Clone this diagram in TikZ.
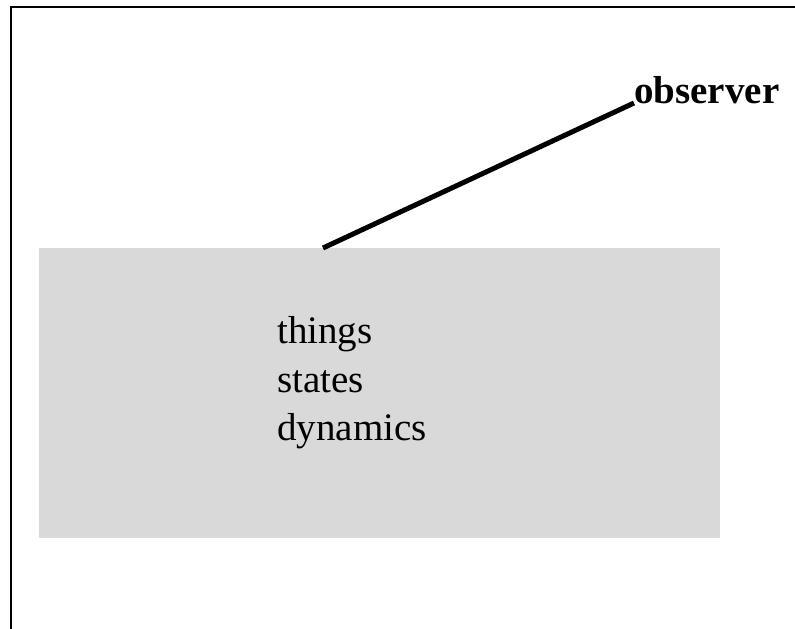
\documentclass[tikz,border=0pt]{standalone}
\usepackage{fontspec}
\setmainfont{Liberation Serif}
\begin{document}
\begin{tikzpicture}[x=1pt,y=-1pt,
  framestyle/.style={line width=2.2pt},
  world/.style={fill=black!15, draw=none, inner sep=0pt, minimum width=681pt, minimum height=290pt, anchor=north west},
  itemtext/.style={font=\fontsize{39}{48.5}\selectfont, inner sep=0pt, anchor=base west},
  obstext/.style={font=\fontsize{39}{48}\selectfont\bfseries, inner sep=0pt, anchor=base west},
  link/.style={line width=5pt}]
\useasboundingbox (0,0) rectangle (795,629);
\draw[framestyle] (796,7) -- (11,7) -- (11,630);
\node[world] (box) at (39,248) {};
\node[itemtext] (t1) at (277,343) {things};
\node[itemtext] (t2) at (277,392) {states};
\node[itemtext] (t3) at (277,440) {dynamics};
\node[obstext] (obs) at (634,103) {observer};
\coordinate (boxtop) at (323,248);
\draw[link] (boxtop) -- (obs.base west);
\end{tikzpicture}
\end{document}
